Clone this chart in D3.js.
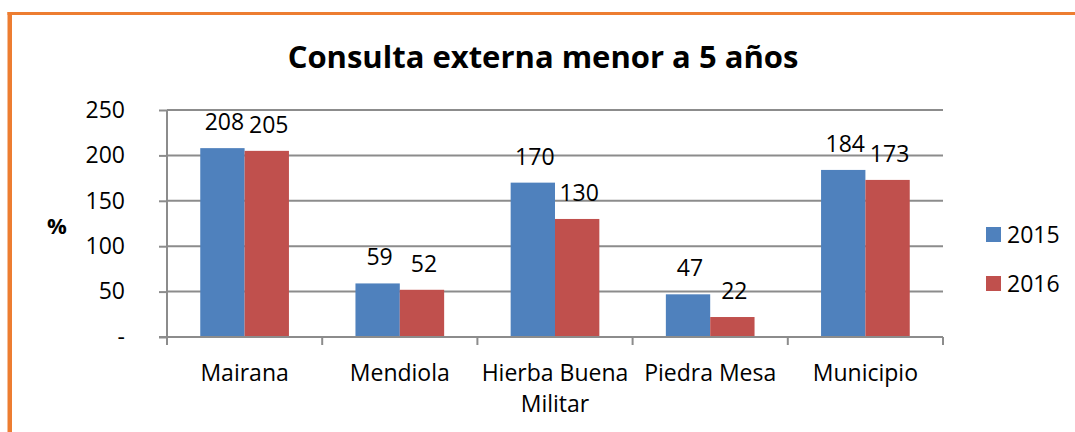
<!DOCTYPE html>
<html lang="es">
<head>
    <meta charset="UTF-8">
    <title>Consulta externa menor a 5 años</title>
    <script src="https://d3js.org/d3.v7.min.js"></script>
    <style>
        body {
            margin: 0;
            background: #fff;
            overflow: hidden;
        }
        svg text {
            font-family: "Open Sans", sans-serif;
            fill: #000;
        }
    </style>
</head>
<body>
    <div id="chart"></div>
    <script>
        // Data
        const categories = ["Mairana", "Mendiola", "Hierba Buena Militar", "Piedra Mesa", "Municipio"];
        const series = ["2015", "2016"];
        const values2015 = [208, 59, 170, 47, 184];
        const values2016 = [205, 52, 130, 22, 173];
        const yTicks = [0, 50, 100, 150, 200, 250];
        const colors = ["#4F81BD", "#C0504D"];

        const width = 1075;
        const height = 432;
        const margin = { top: 110, right: 132, bottom: 95, left: 167 };
        const plotW = width - margin.left - margin.right;
        const plotH = height - margin.top - margin.bottom;

        const svg = d3.select("#chart")
            .append("svg")
            .attr("width", width)
            .attr("height", height);

        // orange frame (left and top edges visible)
        svg.append("rect")
            .attr("x", 7.5).attr("y", 12)
            .attr("width", 4.5).attr("height", height - 12)
            .attr("fill", "#ED7D31");
        svg.append("rect")
            .attr("x", 7.5).attr("y", 12)
            .attr("width", width - 7.5).attr("height", 3)
            .attr("fill", "#ED7D31");

        // title
        svg.append("text")
            .attr("x", 543)
            .attr("y", 68)
            .attr("text-anchor", "middle")
            .style("font-size", "31px")
            .style("font-weight", "bold")
            .text("Consulta externa menor a 5 años");

        const g = svg.append("g")
            .attr("transform", `translate(${margin.left},${margin.top})`);

        const x0 = d3.scaleBand()
            .domain(categories)
            .range([0, plotW])
            .padding(0);

        const x1 = d3.scaleBand()
            .domain(series)
            .range([0, x0.bandwidth()])
            .paddingInner(0)
            .paddingOuter(0.75);

        const y = d3.scaleLinear()
            .domain([0, 250])
            .range([plotH, 0]);

        // gridlines
        g.append("g")
            .selectAll("line")
            .data(yTicks.filter(d => d > 0))
            .enter()
            .append("line")
            .attr("x1", 0)
            .attr("x2", plotW)
            .attr("y1", d => y(d))
            .attr("y2", d => y(d))
            .attr("stroke", "#8C8C8C")
            .attr("stroke-width", 2);

        // bars
        const rows = categories.map((c, i) => ({ cat: c, vals: [values2015[i], values2016[i]] }));
        const groups = g.append("g")
            .selectAll("g")
            .data(rows)
            .enter()
            .append("g")
            .attr("transform", d => `translate(${x0(d.cat)},0)`);

        groups.selectAll("rect")
            .data(d => d.vals.map((v, j) => ({ s: series[j], v: v, j: j })))
            .enter()
            .append("rect")
            .attr("x", d => x1(d.s))
            .attr("y", d => y(d.v))
            .attr("width", x1.bandwidth())
            .attr("height", d => plotH - y(d.v))
            .attr("fill", d => colors[d.j]);

        groups.selectAll("text")
            .data(d => d.vals.map((v, j) => ({ s: series[j], v: v })))
            .enter()
            .append("text")
            .attr("x", d => x1(d.s) + x1.bandwidth() / 2 + 2)
            .attr("y", d => y(d.v) - 18)
            .attr("text-anchor", "middle")
            .style("font-size", "23px")
            .text(d => d.v);

        // y axis
        const yAxis = d3.axisLeft(y)
            .tickValues(yTicks)
            .tickSize(8)
            .tickPadding(34)
            .tickFormat(d => d === 0 ? "-" : d);
        const ya = g.append("g").call(yAxis);
        ya.select(".domain").remove();
        ya.selectAll(".tick line").attr("stroke", "#8C8C8C").attr("stroke-width", 2);
        ya.selectAll(".tick text")
            .style("font-size", "23px")
            .style("font-family", "'Open Sans', sans-serif")
            .attr("fill", "#000")
            .attr("dy", "0.32em");
        g.append("line")
            .attr("x1", 0).attr("x2", 0)
            .attr("y1", 0).attr("y2", plotH + 8)
            .attr("stroke", "#8C8C8C")
            .attr("stroke-width", 2);

        // x axis
        const xTickPos = categories.map(c => x0(c)).concat([plotW]);
        g.append("line")
            .attr("x1", -8).attr("x2", plotW)
            .attr("y1", plotH).attr("y2", plotH)
            .attr("stroke", "#8C8C8C")
            .attr("stroke-width", 2);
        g.append("g")
            .selectAll("line")
            .data(xTickPos)
            .enter()
            .append("line")
            .attr("x1", d => d).attr("x2", d => d)
            .attr("y1", plotH).attr("y2", plotH + 8)
            .attr("stroke", "#8C8C8C")
            .attr("stroke-width", 2);

        // category labels (wrapped like the original)
        const catLines = {
            "Hierba Buena Militar": ["Hierba Buena", "Militar"]
        };
        const catText = g.append("g")
            .selectAll("text")
            .data(categories)
            .enter()
            .append("text")
            .attr("text-anchor", "middle")
            .attr("x", d => x0(d) + x0.bandwidth() / 2)
            .attr("y", plotH + 44)
            .style("font-size", "23px");
        catText.each(function(d) {
            const lines = catLines[d] || [d];
            d3.select(this).selectAll("tspan")
                .data(lines)
                .enter()
                .append("tspan")
                .attr("x", x0(d) + x0.bandwidth() / 2)
                .attr("dy", (l, i) => i === 0 ? 0 : 31)
                .text(l => l);
        });

        // y axis title
        svg.append("text")
            .attr("x", 57)
            .attr("y", 234)
            .attr("text-anchor", "middle")
            .style("font-size", "22px")
            .style("font-weight", "bold")
            .text("%");

        // legend
        const legend = svg.append("g")
            .selectAll("g")
            .data(series)
            .enter()
            .append("g")
            .attr("transform", (d, i) => `translate(986,${227 + i * 49})`);
        legend.append("rect")
            .attr("width", 15)
            .attr("height", 15)
            .attr("fill", (d, i) => colors[i]);
        legend.append("text")
            .attr("x", 21)
            .attr("y", 16)
            .style("font-size", "23px")
            .text(d => d);
    </script>
</body>
</html>
